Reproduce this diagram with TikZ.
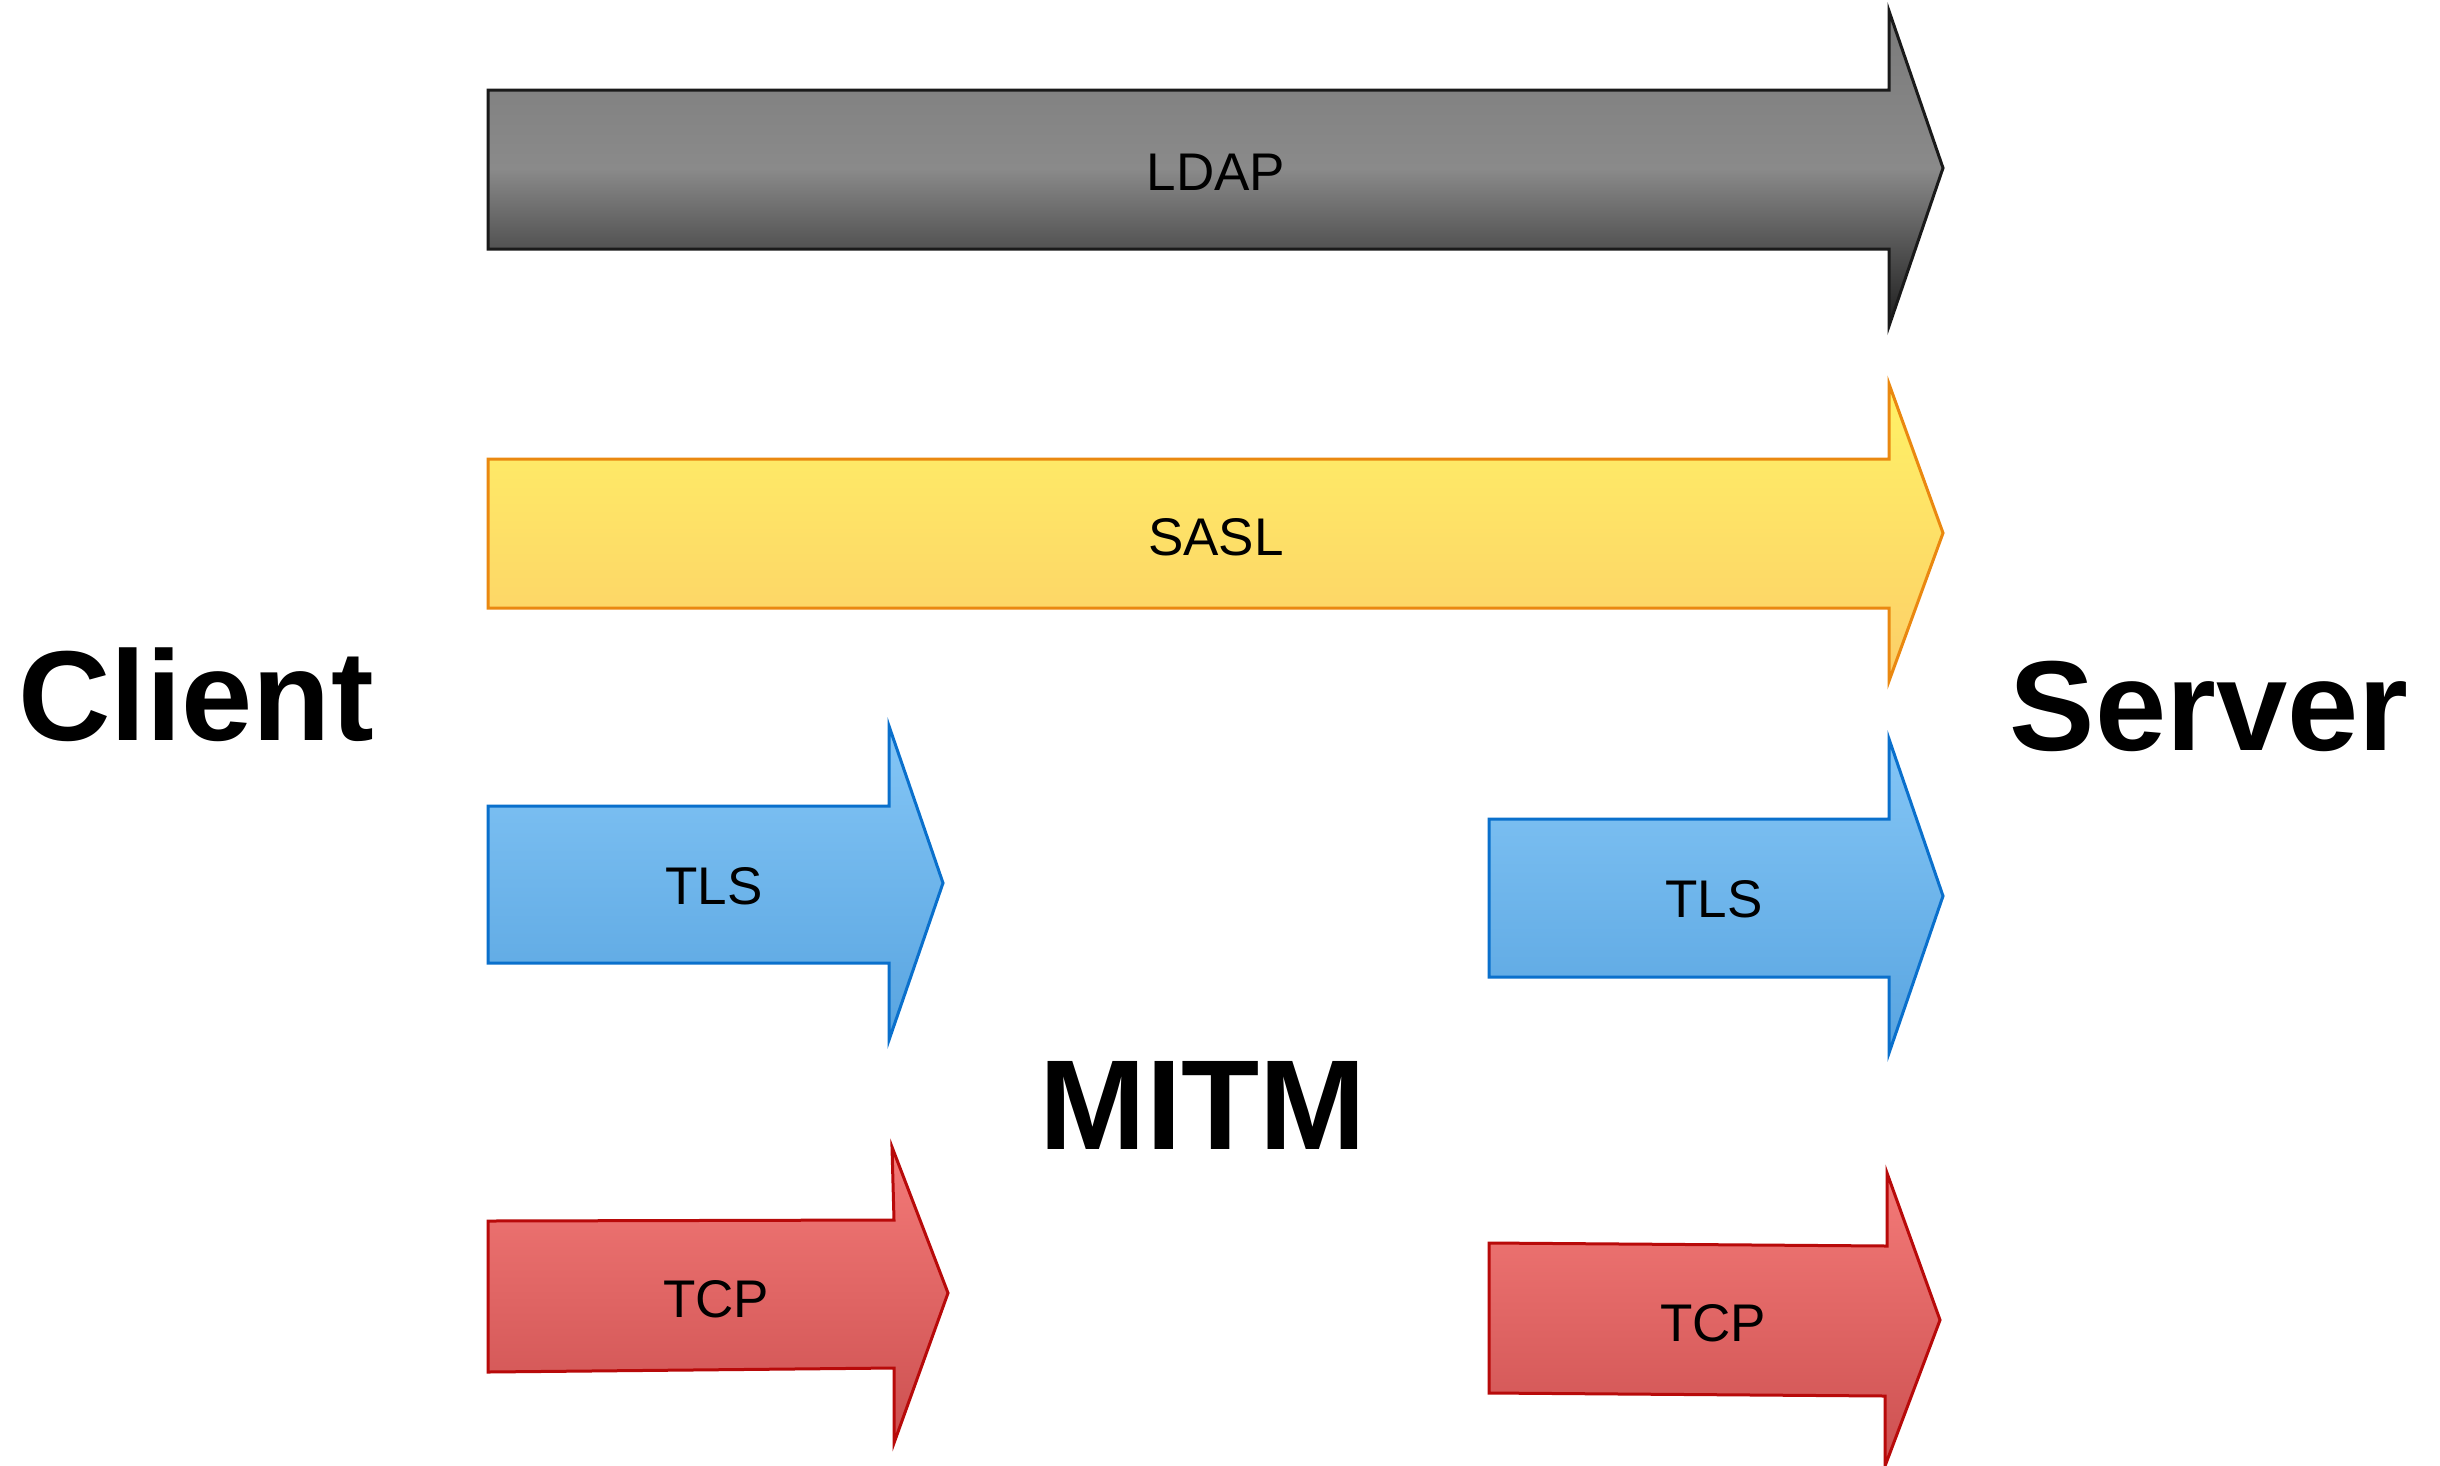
\documentclass[tikz,border=0pt]{standalone}
\usepackage{fontspec}
\setmainfont{Liberation Sans}
\definecolor{ldaptop}{RGB}{122,122,122}
\definecolor{ldapmid}{RGB}{138,138,138}
\definecolor{ldapbot}{RGB}{28,28,28}
\definecolor{ldapline}{RGB}{26,26,26}
\definecolor{sasltop}{RGB}{255,242,102}
\definecolor{saslbot}{RGB}{252,206,104}
\definecolor{saslline}{RGB}{234,136,16}
\definecolor{tlstop}{RGB}{132,198,246}
\definecolor{tlsbot}{RGB}{88,164,224}
\definecolor{tlsline}{RGB}{10,112,204}
\definecolor{tcptop}{RGB}{244,122,120}
\definecolor{tcpbot}{RGB}{204,80,80}
\definecolor{tcpline}{RGB}{184,10,10}
\tikzset{
  arrowshape/.style={line width=3pt, line join=miter},
  ldapfill/.style={arrowshape, draw=ldapline, top color=ldaptop, bottom color=ldapbot, middle color=ldapmid},
  saslfill/.style={arrowshape, draw=saslline, top color=sasltop, bottom color=saslbot},
  tlsfill/.style={arrowshape, draw=tlsline, top color=tlstop, bottom color=tlsbot},
  tcpfill/.style={arrowshape, draw=tcpline, top color=tcptop, bottom color=tcpbot},
  lbl/.style={anchor=base, inner sep=0pt, font=\fontsize{53}{60}\selectfont},
  bigtxt/.style={anchor=base, inner sep=0pt, font=\fontsize{128}{140}\selectfont\bfseries}
}
\begin{document}
\begin{tikzpicture}[x=1pt, y=-1pt]
\useasboundingbox (0,0) rectangle (2440,1465);
\fill[white] (0,0) rectangle (2440,1465);
% LDAP
\draw[ldapfill] (488,90) -- (1889,90) -- (1889,11) -- (1943,168) -- (1889,326) -- (1889,249) -- (488,249) -- cycle;
\node[lbl] (ldap) at (1216,190) {LDAP};
% SASL
\draw[saslfill] (488,459) -- (1889,459) -- (1889,384) -- (1943,533) -- (1889,681) -- (1889,608) -- (488,608) -- cycle;
\node[lbl] (sasl) at (1216,555) {SASL};
% TLS left
\draw[tlsfill] (488,806) -- (889,806) -- (889,726) -- (943,883) -- (889,1040) -- (889,963) -- (488,963) -- cycle;
\node[lbl] (tlsl) at (714,904) {TLS};
% TLS right
\draw[tlsfill] (1489,819) -- (1889,819) -- (1889,739) -- (1943,896) -- (1889,1053) -- (1889,977) -- (1489,977) -- cycle;
\node[lbl] (tlsr) at (1714,917) {TLS};
% TCP left
\draw[tcpfill] (488,1221) -- (894,1220) -- (892,1147) -- (948,1293) -- (894,1443) -- (894,1368) -- (488,1372) -- cycle;
\node[lbl] (tcpl) at (716,1317) {TCP};
% TCP right
\draw[tcpfill] (1489,1243) -- (1887,1246) -- (1887,1173) -- (1940,1320) -- (1885,1466) -- (1885,1396) -- (1489,1393) -- cycle;
\node[lbl] (tcpr) at (1713,1341) {TCP};
% big labels
\node[bigtxt] (client) at (196,740) {Client};
\node[bigtxt] (server) at (2209,750) {Server};
\node[bigtxt] (mitm) at (1203,1149) {MITM};
\end{tikzpicture}
\end{document}
